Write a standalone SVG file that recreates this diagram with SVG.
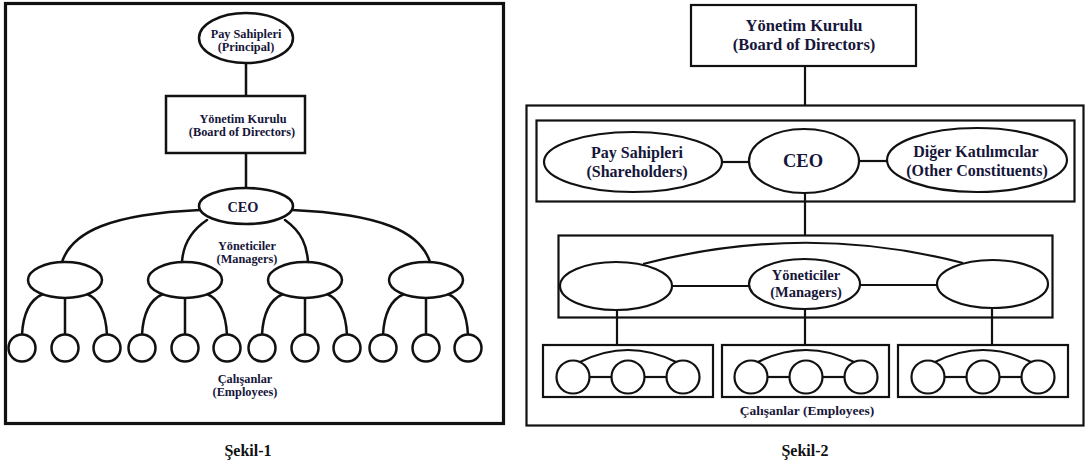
<svg xmlns="http://www.w3.org/2000/svg" width="1088" height="469" viewBox="0 0 1088 469">
  <style>
    .ln { fill: none; stroke: #111; stroke-width: 2.5; stroke-linecap: round; }
    .ln2 { fill: none; stroke: #111; stroke-width: 2.2; }
    .nd { fill: #fff; stroke: #111; stroke-width: 2.5; }
    .nd2 { fill: #fff; stroke: #111; stroke-width: 2.2; }
    .box { fill: none; stroke: #111; stroke-width: 2.2; }
    .frame { fill: none; stroke: #111; stroke-width: 3.2; }
    text { font-family: "Liberation Serif", "Times New Roman", serif; font-weight: bold; fill: #16163a; text-anchor: middle; }
    .s { font-size: 12.3px; }
    .m { font-size: 16px; }
    .cap { font-size: 16px; fill: #111; }
  </style>

  <!-- Figure 1: classic hierarchy -->
  <rect class="frame" x="5.5" y="3.5" width="498" height="420"/>

  <g id="f1-connectors">
    <line class="ln" x1="246" y1="63" x2="246" y2="96"/>
    <line class="ln" x1="246" y1="153" x2="246" y2="188"/>
    <!-- CEO to managers -->
    <path class="ln" d="M200 210 C110 214 72 232 62 262"/>
    <path class="ln" d="M292 210 C382 214 420 232 430 262"/>
    <path class="ln" d="M207 220 C189 232 183 246 182 262"/>
    <path class="ln" d="M285 220 C302 232 307 246 308 262"/>
    <!-- managers to employees -->
    <g id="f1-m1-links" transform="translate(65 0)">
      <line class="ln" x1="0" y1="298" x2="0" y2="335"/>
      <path class="ln" d="M-22 294 C-36 300 -42 315 -43 335"/>
      <path class="ln" d="M22 294 C36 300 41 315 42 335"/>
    </g>
    <g id="f1-m2-links" transform="translate(185 0)">
      <line class="ln" x1="0" y1="298" x2="0" y2="335"/>
      <path class="ln" d="M-22 294 C-36 300 -42 315 -43 335"/>
      <path class="ln" d="M22 294 C36 300 41 315 42 335"/>
    </g>
    <g id="f1-m3-links" transform="translate(305 0)">
      <line class="ln" x1="0" y1="298" x2="0" y2="335"/>
      <path class="ln" d="M-22 294 C-36 300 -42 315 -43 335"/>
      <path class="ln" d="M22 294 C36 300 41 315 42 335"/>
    </g>
    <g id="f1-m4-links" transform="translate(426 0)">
      <line class="ln" x1="0" y1="298" x2="0" y2="335"/>
      <path class="ln" d="M-22 294 C-36 300 -42 315 -43 335"/>
      <path class="ln" d="M22 294 C36 300 41 315 42 335"/>
    </g>
  </g>

  <g id="f1-principal">
    <ellipse class="nd" cx="246" cy="38" rx="47" ry="25"/>
    <text class="s" x="246" y="38">Pay Sahipleri</text>
    <text class="s" x="246" y="51">(Principal)</text>
  </g>
  <g id="f1-board">
    <rect class="nd" x="166" y="96" width="139" height="57"/>
    <text class="s" x="243" y="123">Yönetim Kurulu</text>
    <text class="s" x="242" y="136">(Board of Directors)</text>
  </g>
  <g id="f1-ceo">
    <ellipse class="nd" cx="246" cy="206" rx="47" ry="18"/>
    <text x="243" y="212" style="font-size:14.3px">CEO</text>
  </g>
  <g id="f1-managers">
    <ellipse class="nd" cx="65" cy="280" rx="37" ry="18"/>
    <ellipse class="nd" cx="185" cy="280" rx="37" ry="18"/>
    <ellipse class="nd" cx="305" cy="280" rx="37" ry="18"/>
    <ellipse class="nd" cx="426" cy="280" rx="37" ry="18"/>
    <text class="s" x="247" y="250">Yöneticiler</text>
    <text class="s" x="247" y="263">(Managers)</text>
  </g>
  <g id="f1-employees">
    <circle class="nd" cx="22" cy="348" r="13.5"/>
    <circle class="nd" cx="65" cy="348" r="13.5"/>
    <circle class="nd" cx="107" cy="348" r="13.5"/>
    <circle class="nd" cx="142" cy="348" r="13.5"/>
    <circle class="nd" cx="185" cy="348" r="13.5"/>
    <circle class="nd" cx="227" cy="348" r="13.5"/>
    <circle class="nd" cx="262" cy="348" r="13.5"/>
    <circle class="nd" cx="305" cy="348" r="13.5"/>
    <circle class="nd" cx="347" cy="348" r="13.5"/>
    <circle class="nd" cx="383" cy="348" r="13.5"/>
    <circle class="nd" cx="426" cy="348" r="13.5"/>
    <circle class="nd" cx="468" cy="348" r="13.5"/>
    <text class="s" x="245" y="383">Çalışanlar</text>
    <text class="s" x="245" y="396">(Employees)</text>
  </g>

  <text class="cap" x="248" y="456">Şekil-1</text>

  <!-- Figure 2: stakeholder model -->
  <rect class="box" x="526.5" y="105.5" width="557" height="320"/>
  <rect class="box" x="536.5" y="120.5" width="538" height="81"/>
  <rect class="box" x="558.5" y="235.5" width="494" height="82"/>

  <g id="f2-connectors">
    <line class="ln2" x1="805" y1="66" x2="805" y2="106"/>
    <line class="ln2" x1="722" y1="162" x2="749" y2="162"/>
    <line class="ln2" x1="859" y1="161" x2="887" y2="161"/>
    <line class="ln2" x1="805" y1="193" x2="805" y2="235"/>
    <line class="ln2" x1="672" y1="286" x2="749" y2="286"/>
    <line class="ln2" x1="860" y1="285" x2="937" y2="285"/>
    <path class="ln2" d="M643 264 Q805 222 963 263"/>
    <line class="ln2" x1="617" y1="310" x2="617" y2="345"/>
    <line class="ln2" x1="805" y1="309" x2="805" y2="345"/>
    <line class="ln2" x1="992" y1="308" x2="992" y2="345"/>
  </g>

  <g id="f2-board">
    <rect class="nd2" x="691" y="5" width="225" height="61"/>
    <text x="804" y="31" style="font-size:16.5px">Yönetim Kurulu</text>
    <text x="804" y="50" style="font-size:16.5px">(Board of Directors)</text>
  </g>
  <g id="f2-shareholders">
    <ellipse class="nd2" cx="633" cy="162" rx="89" ry="30"/>
    <text class="m" x="637" y="158">Pay Sahipleri</text>
    <text class="m" x="637" y="177">(Shareholders)</text>
  </g>
  <g id="f2-ceo">
    <ellipse class="nd2" cx="804" cy="161" rx="55" ry="32"/>
    <text x="803" y="167" style="font-size:18.5px">CEO</text>
  </g>
  <g id="f2-constituents">
    <ellipse class="nd2" cx="977" cy="160" rx="90" ry="32"/>
    <text class="m" x="976" y="157">Diğer Katılımcılar</text>
    <text class="m" x="977" y="176">(Other Constituents)</text>
  </g>
  <g id="f2-managers">
    <ellipse class="nd2" cx="616" cy="286" rx="56" ry="24"/>
    <ellipse class="nd2" cx="804.5" cy="284" rx="55.5" ry="25"/>
    <ellipse class="nd2" cx="992.5" cy="284" rx="55.5" ry="24"/>
    <text x="806" y="280" style="font-size:14.5px">Yöneticiler</text>
    <text x="806" y="297" style="font-size:14.5px">(Managers)</text>
  </g>

  <g id="f2-team-1" transform="translate(628 0)">
    <rect class="box" x="-85" y="345" width="170" height="52"/>
    <path class="ln2" d="M-48 362 Q0 338 48 362"/>
    <line class="ln2" x1="-38.5" y1="377" x2="-16.5" y2="377"/>
    <line class="ln2" x1="16.5" y1="377" x2="38.5" y2="377"/>
    <circle class="nd2" cx="-55" cy="377" r="16.5"/>
    <circle class="nd2" cx="0" cy="377" r="16.5"/>
    <circle class="nd2" cx="55" cy="377" r="16.5"/>
  </g>
  <g id="f2-team-2" transform="translate(806 0)">
    <rect class="box" x="-84" y="345" width="167" height="52"/>
    <path class="ln2" d="M-48 362 Q0 338 48 362"/>
    <line class="ln2" x1="-38.5" y1="377" x2="-16.5" y2="377"/>
    <line class="ln2" x1="16.5" y1="377" x2="38.5" y2="377"/>
    <circle class="nd2" cx="-55" cy="377" r="16.5"/>
    <circle class="nd2" cx="0" cy="377" r="16.5"/>
    <circle class="nd2" cx="55" cy="377" r="16.5"/>
  </g>
  <g id="f2-team-3" transform="translate(983 0)">
    <rect class="box" x="-85" y="345" width="170" height="52"/>
    <path class="ln2" d="M-48 362 Q0 338 48 362"/>
    <line class="ln2" x1="-38.5" y1="377" x2="-16.5" y2="377"/>
    <line class="ln2" x1="16.5" y1="377" x2="38.5" y2="377"/>
    <circle class="nd2" cx="-55" cy="377" r="16.5"/>
    <circle class="nd2" cx="0" cy="377" r="16.5"/>
    <circle class="nd2" cx="55" cy="377" r="16.5"/>
  </g>
  <text x="807" y="415" style="font-size:13.5px">Çalışanlar (Employees)</text>

  <text class="cap" x="805" y="456">Şekil-2</text>
</svg>
